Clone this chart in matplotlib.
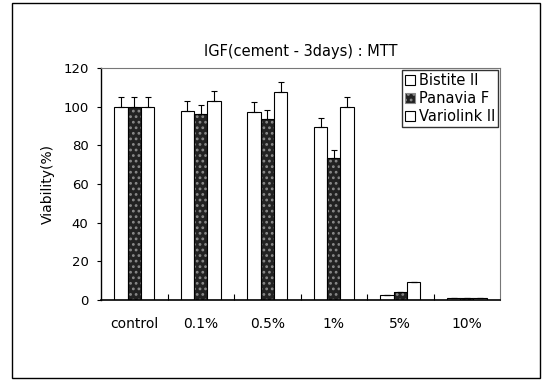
import numpy as np
import matplotlib.pyplot as plt
from matplotlib.patches import Rectangle

plt.rcParams['font.family'] = ['DejaVu Sans']
plt.rcParams['hatch.linewidth'] = 1.2

groups = ['control', '0.1%', '0.5%', '1%', '5%', '10%']
bistite = [100, 98, 97.5, 89.5, 2.5, 0.8]
panavia = [100, 96.5, 93.5, 73.5, 4, 1]
variolink = [100, 103, 107.5, 100, 9, 0.8]
bistite_err = [5, 5, 5, 4.5, 0, 0]
panavia_err = [5, 4.5, 5, 4, 0, 0]
variolink_err = [5, 5, 5.5, 5, 0, 0]

fig = plt.figure(figsize=(5.43, 3.81), dpi=100)
ax = fig.add_axes([0.186, 0.213, 0.735, 0.608])

x = np.arange(len(groups))
w = 0.2
ekw = dict(ecolor='black', elinewidth=0.8, capsize=2, capthick=0.8)

ax.bar(x - w, bistite, w, color='white', edgecolor='black', lw=0.8,
       yerr=[np.zeros(6), bistite_err], error_kw=ekw)
ax.bar(x, panavia, w, color='#222222', edgecolor='#8a8a8a', hatch='...', lw=0,
       yerr=[np.zeros(6), panavia_err], error_kw=ekw)
ax.bar(x, panavia, w, fill=False, edgecolor='black', lw=0.8)
ax.bar(x + w, variolink, w, color='white', edgecolor='black', lw=0.8,
       yerr=[np.zeros(6), variolink_err], error_kw=ekw)

h_b = Rectangle((0, 0), 1, 1, fc='white', ec='black', lw=0.8)
h_p = Rectangle((0, 0), 1, 1, fc='#222222', ec='#8a8a8a', hatch='...', lw=0.8)
h_v = Rectangle((0, 0), 1, 1, fc='white', ec='black', lw=0.8)
leg = ax.legend([h_b, h_p, h_v], ['Bistite II', 'Panavia F', 'Variolink II'],
                loc='upper right', fontsize=10.5, frameon=True, fancybox=False,
                handlelength=0.7, handleheight=0.7, handletextpad=0.25,
                borderpad=0.2, labelspacing=0.2, borderaxespad=0.15)
leg.get_frame().set_edgecolor('black')
leg.get_frame().set_linewidth(1.0)

ax.set_xlim(-0.5, 5.5)
ax.set_ylim(0, 120)
ax.set_yticks(range(0, 121, 20))
ax.set_xticks(x)
ax.set_xticklabels(groups, fontsize=10)
ax.tick_params(axis='x', length=0, pad=12)
ax.tick_params(axis='y', length=3, width=0.8, labelsize=9.5, pad=6)
ax.set_xticks(x[:-1] + 0.5, minor=True)
ax.tick_params(axis='x', which='minor', direction='in', length=4, width=0.8)
ax.set_ylabel('Viability(%)', fontsize=10, labelpad=6)
ax.set_title('IGF(cement - 3days) : MTT', fontsize=10.5, pad=9)

for s in ['top', 'right']:
    ax.spines[s].set_color('#777777')
    ax.spines[s].set_linewidth(0.8)
ax.spines['left'].set_linewidth(1.0)
ax.spines['bottom'].set_linewidth(1.2)

fig.patches.append(Rectangle((0.022, 0.008), 0.972, 0.985, transform=fig.transFigure,
                             fill=False, ec='black', lw=1.0))

fig.savefig('out.png', dpi=100)
